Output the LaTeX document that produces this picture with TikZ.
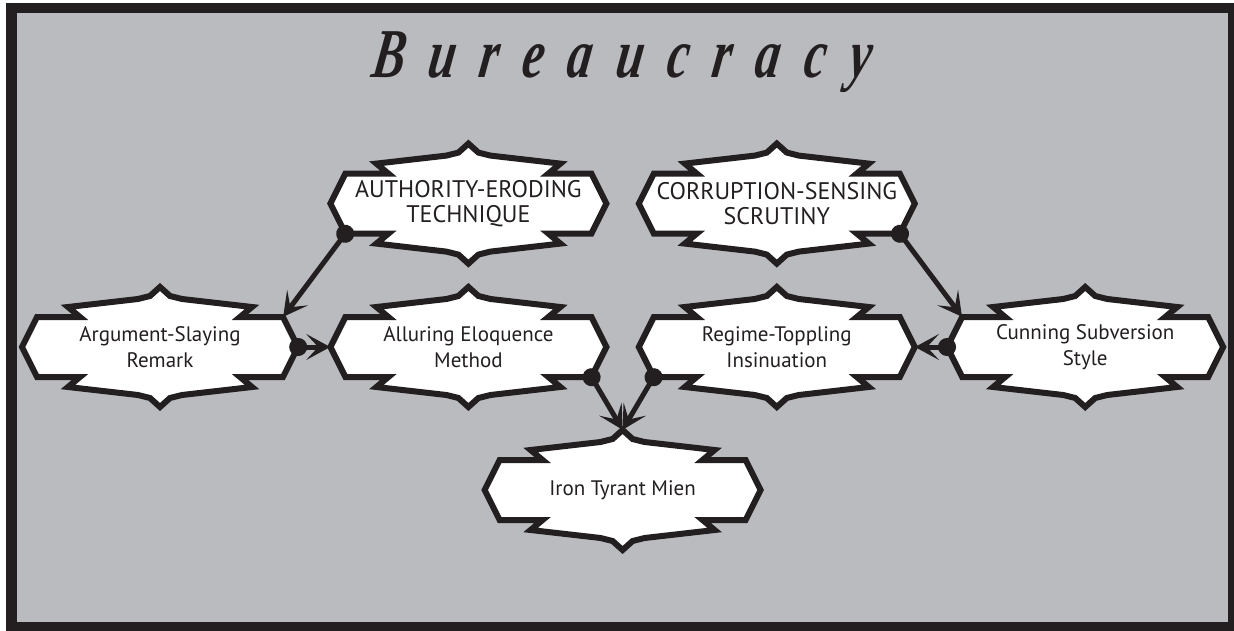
\documentclass[tikz,border=0pt]{standalone}
\usepackage{fontspec}
\usetikzlibrary{arrows.meta,positioning,calc,backgrounds}
\newfontfamily\badgefont{PT Sans}
\newfontfamily\titlefont{Liberation Serif}
\definecolor{inkblack}{RGB}{35,31,32}
\definecolor{slate}{RGB}{185,187,190}
\pgfdeclarelayer{back}
\pgfsetlayers{back,background,main}
\newcommand{\ltrgap}{\hspace{34pt}}
\newcommand{\badge}[1]{%
  \begin{scope}[shift={(#1.center)}]
    \draw[badgeline] (-138,0) -- (-123,30) -- (-80,30) -- (-92,40) -- (-22,48) -- (-10,51) -- (0,60)
      -- (10,51) -- (22,48) -- (92,40) -- (80,30) -- (123,30) -- (138,0)
      -- (123,-30) -- (80,-30) -- (92,-40) -- (22,-48) -- (10,-51) -- (0,-60)
      -- (-10,-51) -- (-22,-48) -- (-92,-40) -- (-80,-30) -- (-123,-30) -- cycle;
  \end{scope}}

\begin{document}
\begin{tikzpicture}[x=1pt, y=-1pt, node distance=62pt, >={Stealth[length=24pt,width=26pt,inset=12pt]}]
    \tikzstyle{badge}     = [minimum width=246pt, minimum height=60pt, inner sep=0pt, align=center, text=inkblack, font=\badgefont\fontsize{21}{26}\selectfont]
    \tikzstyle{capsbadge} = [badge, font=\badgefont\fontsize{24}{25}\selectfont]
    \tikzstyle{badgeline} = [draw=inkblack, fill=white, line width=6pt, line join=miter]
    \tikzstyle{link}      = [draw=inkblack, line width=5pt, {Circle[length=18pt]}->, shorten <=-9pt]

    \useasboundingbox (0,0) rectangle (1234,631);

    \node [badge] (arg) at (160,347) {Argument-Slaying\\Remark};
    \node [badge, right=of arg] (allur) {Alluring Eloquence\\Method};
    \node [badge, right=of allur] (regime) {Regime-Toppling\\Insinuation};
    \node [badge, right=of regime] (cunning) {Cunning Subversion\\Style};

    \node [capsbadge, above=83pt of allur] (auth) {AUTHORITY-ERODING\\TECHNIQUE};
    \node [capsbadge, above=83pt of regime] (corr) {CORRUPTION-SENSING\\SCRUTINY};
    \node [badge] (iron) at ($(allur)!0.5!(regime)+(0,143)$) {Iron Tyrant Mien};

    \begin{scope}[shift={(622,62)}, xslant=0.15, xscale=0.7]
        \node [transform shape, text=inkblack, font=\titlefont\bfseries\itshape\fontsize{70}{70}\selectfont] (title) at (0,0)
            {B\ltrgap u\ltrgap r\ltrgap e\ltrgap a\ltrgap u\ltrgap c\ltrgap r\ltrgap a\ltrgap c\ltrgap y};
    \end{scope}

    % frame and badges behind the text
    \begin{pgfonlayer}{back}
        \fill[inkblack] (6,3) rectangle (1234,631);
        \fill[slate] (17,13) rectangle (1228,622);
    \end{pgfonlayer}
    \begin{pgfonlayer}{background}
        \foreach \n in {arg,allur,regime,cunning,auth,corr,iron} {\badge{\n}}
    \end{pgfonlayer}

    \draw [link] (auth.south west) -- (arg.north east);
    \draw [link] ([xshift=15pt]arg.east) -- ([xshift=-15pt]allur.west);
    \draw [link] (corr.south east) -- (cunning.north west);
    \draw [link] ([xshift=-15pt]cunning.west) -- ([xshift=15pt]regime.east);
    \draw [link] (allur.south east) -- ([yshift=30pt]iron.north);
    \draw [link] (regime.south west) -- ([yshift=30pt]iron.north);
\end{tikzpicture}
\end{document}
